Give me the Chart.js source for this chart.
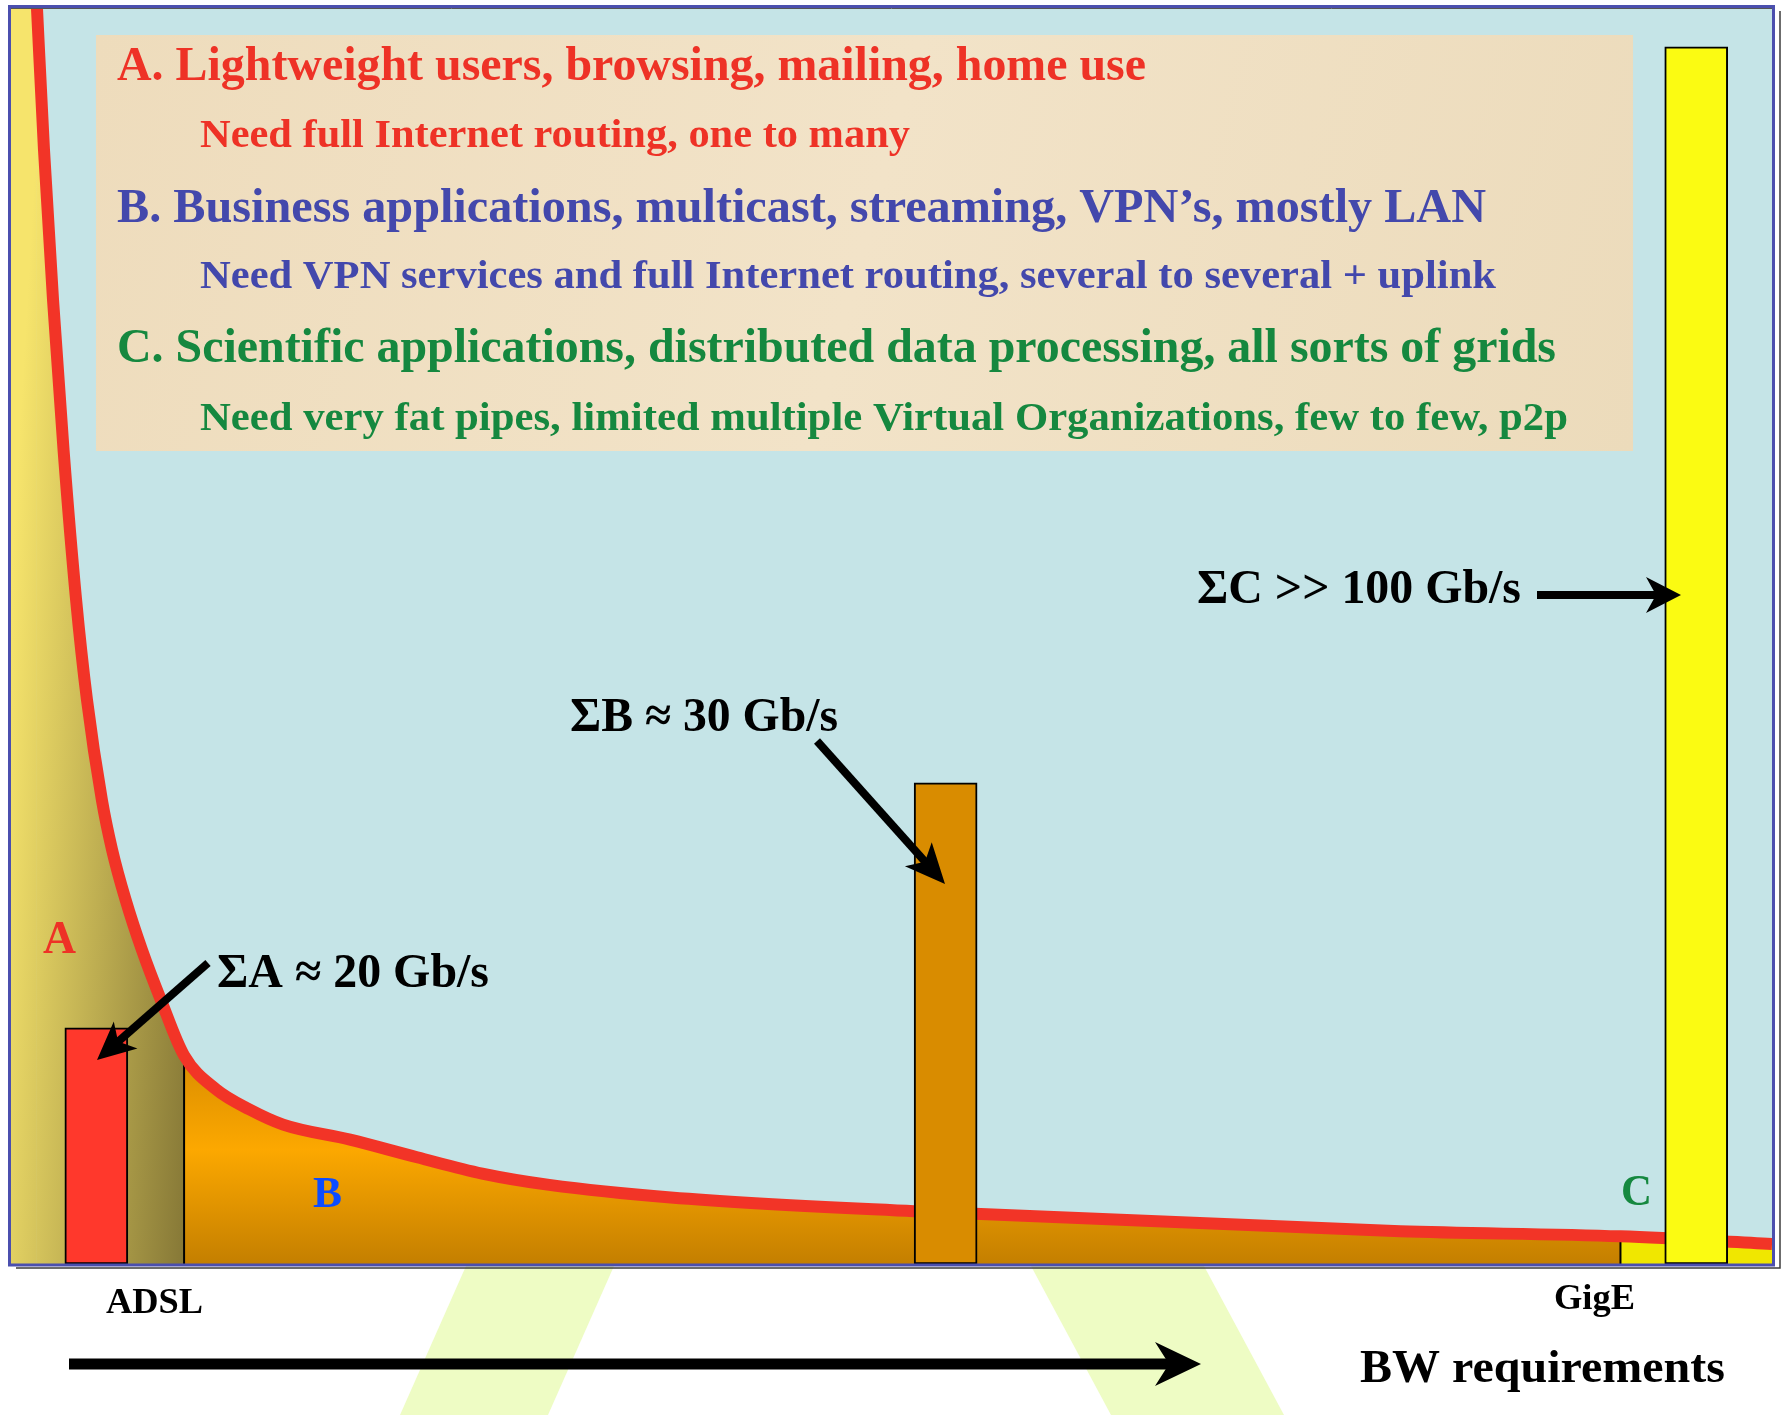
<!DOCTYPE html>
<html>
<head>
<meta charset="utf-8">
<title>BW requirements</title>
<script src="https://cdn.jsdelivr.net/npm/chart.js@4.4.1/dist/chart.umd.min.js"></script>
<style>
  html, body { margin: 0; padding: 0; background: #fff; }
  canvas { display: block; }
</style>
</head>
<body>
<canvas id="bwChart" width="1788" height="1415"></canvas>
<script>
// x = bandwidth requirement (0..100, ADSL on the left, GigE on the right)
// y = number of users (0..100)
var curveBW    = [1.53, 1.93, 2.44, 3.04, 3.75, 4.37, 5.22, 5.79, 6.56, 7.49, 8.57, 9.88, 11.7, 13.6, 15.5, 19.3, 23.1, 26.8, 30.6, 37.5, 51.3, 78.9, 91.4, 100];
var curveUsers = [100, 88.7, 76.8, 64.8, 52.9, 44.9, 36.9, 33.0, 29.0, 25.0, 21.0, 16.6, 13.9, 12.3, 11.1, 9.9, 8.5, 7.2, 6.3, 5.3, 4.2, 2.6, 2.2, 1.6];

// summed bandwidth per class: A (ADSL), B, C (GigE)
var barLabels = ['A', 'B', 'C'];
var barBW     = [4.9, 53.1, 95.7];
var barTotals = [18.8, 38.3, 96.9];
var barColors = ['#ff382c', '#d98c00', '#fbfb12'];

// where the classes split along the curve
var splitBW    = [0, 9.88, 91.4, 100];
var splitUsers = [100, 16.6, 2.2];

var curve = curveBW.map(function (x, i) { return { x: x, y: curveUsers[i] }; });
var bars = barBW.map(function (x, i) { return { x: x, y: barTotals[i] }; });

function regionOf(x) {
  return x < splitBW[1] ? 0 : (x < splitBW[2] ? 1 : 2);
}

var gradCache = {};

function gradA(context) {
  var chart = context.chart, a = chart.chartArea;
  if (!a) return '#e6d466';
  var key = 'A' + a.left + ',' + a.top + ',' + a.right + ',' + a.bottom;
  if (gradCache[key]) return gradCache[key];
  var xb = chart.scales.x.getPixelForValue(splitBW[1]);
  var w = xb - a.left, h = a.bottom - a.top;
  var g = chart.ctx.createLinearGradient(a.left, a.top + 0.47 * h, a.left + 1.25 * w, a.top + 0.48 * h);
  g.addColorStop(0, '#f6e46c');
  g.addColorStop(1, '#837535');
  gradCache[key] = g;
  return g;
}

function gradB(context) {
  var chart = context.chart, a = chart.chartArea;
  if (!a) return '#fca800';
  var key = 'B' + a.left + ',' + a.top + ',' + a.right + ',' + a.bottom;
  if (gradCache[key]) return gradCache[key];
  var g = chart.ctx.createLinearGradient(0, a.bottom - 224, 0, a.bottom);
  g.addColorStop(0, '#d48800');
  g.addColorStop(0.49, '#fca800');
  g.addColorStop(1, '#c47f00');
  gradCache[key] = g;
  return g;
}

var fitText = function (ctx, text, x, y, size, endX, color) {
  ctx.save();
  ctx.font = 'bold ' + size + 'px "Liberation Serif", "Times New Roman", serif';
  ctx.fillStyle = color;
  ctx.textAlign = 'left';
  ctx.textBaseline = 'alphabetic';
  var w = ctx.measureText(text).width;
  ctx.translate(x, y);
  ctx.scale((endX - x) / w, 1);
  ctx.fillText(text, 0, 0);
  ctx.restore();
};

var arrow = function (ctx, x1, y1, x2, y2, w, len, half, notch) {
  var ang = Math.atan2(y2 - y1, x2 - x1);
  var L = Math.hypot(x2 - x1, y2 - y1);
  ctx.save();
  ctx.translate(x1, y1);
  ctx.rotate(ang);
  ctx.fillStyle = '#000';
  ctx.fillRect(0, -w / 2, L - len + notch + 2, w);
  ctx.beginPath();
  ctx.moveTo(L, 0);
  ctx.lineTo(L - len, -half);
  ctx.lineTo(L - len + notch, 0);
  ctx.lineTo(L - len, half);
  ctx.closePath();
  ctx.fill();
  ctx.restore();
};

var slidePlugin = {
  id: 'slide',
  beforeDraw: function (chart) {
    var ctx = chart.ctx, a = chart.chartArea;
    ctx.save();
    ctx.fillStyle = '#ffffff';
    ctx.fillRect(0, 0, chart.width, chart.height);
    // pale legs of the background letter
    ctx.fillStyle = '#eefcc4';
    ctx.beginPath();
    ctx.moveTo(466, 1266); ctx.lineTo(614, 1266); ctx.lineTo(548, 1415); ctx.lineTo(400, 1415);
    ctx.closePath(); ctx.fill();
    ctx.beginPath();
    ctx.moveTo(1031, 1266); ctx.lineTo(1204, 1266); ctx.lineTo(1284, 1415); ctx.lineTo(1111, 1415);
    ctx.closePath(); ctx.fill();
    // shadow of the frame
    ctx.strokeStyle = '#3c3c3c';
    ctx.lineWidth = 1.5;
    ctx.beginPath();
    ctx.moveTo(a.right + 8, a.top + 3);
    ctx.lineTo(a.right + 8, a.bottom + 4);
    ctx.lineTo(a.left + 6, a.bottom + 4);
    ctx.stroke();
    ctx.fillStyle = '#c5e4e7';
    ctx.fillRect(a.left, a.top, a.right - a.left, a.bottom - a.top);
    ctx.restore();
  },
  afterDatasetsDraw: function (chart) {
    var ctx = chart.ctx, a = chart.chartArea;
    ctx.save();
    // frame
    ctx.strokeStyle = '#4b4fae';
    ctx.lineWidth = 3;
    ctx.strokeRect(a.left - 0.5, a.top - 1.5, a.right - a.left + 2, a.bottom - a.top + 2.5);
    ctx.strokeStyle = '#555';
    ctx.lineWidth = 1;
    ctx.beginPath();
    ctx.moveTo(a.left + 1, a.top + 0.5);
    ctx.lineTo(a.right, a.top + 0.5);
    ctx.stroke();

    // parchment text box
    var pg = ctx.createLinearGradient(96, 35, 1633, 451);
    pg.addColorStop(0, '#eedcbc');
    pg.addColorStop(0.5, '#f2e3c8');
    pg.addColorStop(1, '#ecdbbb');
    ctx.fillStyle = pg;
    ctx.fillRect(96, 35, 1537, 416);

    var red = '#ee3226', blue = '#4348ac', green = '#15883f';
    fitText(ctx, 'A. Lightweight users, browsing, mailing, home use', 117, 80, 48, 1146, red);
    fitText(ctx, 'Need full Internet routing, one to many', 200, 147, 41, 910, red);
    fitText(ctx, 'B. Business applications, multicast, streaming, VPN\u2019s, mostly LAN', 117, 222, 48, 1486, blue);
    fitText(ctx, 'Need VPN services and full Internet routing, several to several + uplink', 200, 288, 41, 1496, blue);
    fitText(ctx, 'C. Scientific applications, distributed data processing, all sorts of grids', 117, 362, 48, 1556, green);
    fitText(ctx, 'Need very fat pipes, limited multiple Virtual Organizations, few to few, p2p', 200, 430, 41, 1568, green);

    // class letters
    fitText(ctx, 'A', 43, 953, 46, 76, red);
    fitText(ctx, 'B', 313, 1207, 45, 342, '#0c4cff');
    fitText(ctx, 'C', 1621, 1205, 45, 1652, green);

    // sums with arrows
    fitText(ctx, '\u03A3A \u2248 20 Gb/s', 217, 987, 48, 489, '#000');
    arrow(ctx, 208, 963, 97, 1060, 8, 38, 18, 10);
    fitText(ctx, '\u03A3B \u2248 30 Gb/s', 570, 731, 48, 838, '#000');
    arrow(ctx, 817, 741, 945, 884, 8, 40, 18, 10);
    fitText(ctx, '\u03A3C >> 100 Gb/s', 1197, 603, 48, 1521, '#000');
    arrow(ctx, 1537, 595, 1681, 595, 8, 35, 18, 10);

    // axis notes
    fitText(ctx, 'ADSL', 106, 1313, 36, 203, '#000');
    fitText(ctx, 'GigE', 1554, 1309, 36, 1635, '#000');
    fitText(ctx, 'BW requirements', 1360, 1382, 46, 1725, '#000');
    arrow(ctx, 69, 1364, 1201, 1364, 11, 46, 22, 14);
    ctx.restore();
  }
};

var ctx = document.getElementById('bwChart').getContext('2d');
var bwChart = new Chart(ctx, {
  type: 'line',
  data: {
    datasets: [{
      type: 'bar',
      label: 'Sum per class',
      data: bars,
      backgroundColor: barColors,
      borderColor: '#000',
      borderWidth: 2,
      borderSkipped: false,
      barThickness: 63,
      order: 0
    }, {
      label: 'Users',
      data: curve,
      borderColor: '#f23427',
      borderWidth: 12,
      pointRadius: 0,
      cubicInterpolationMode: 'monotone',
      fill: false,
      clip: 0,
      order: 1
    }, {
      label: 'A|B split',
      data: [{ x: splitBW[1], y: 0 }, { x: splitBW[1], y: splitUsers[1] }],
      borderColor: '#000',
      borderWidth: 2,
      pointRadius: 0,
      fill: false,
      order: 2
    }, {
      label: 'B|C split',
      data: [{ x: splitBW[2], y: 0 }, { x: splitBW[2], y: splitUsers[2] }],
      borderColor: '#000',
      borderWidth: 2,
      pointRadius: 0,
      fill: false,
      order: 2
    }, {
      label: 'Class areas',
      data: curve,
      borderWidth: 0,
      pointRadius: 0,
      cubicInterpolationMode: 'monotone',
      fill: 'origin',
      backgroundColor: '#fca800',
      segment: {
        backgroundColor: function (c) {
          var r = regionOf(curveBW[c.p0DataIndex]);
          return r === 0 ? gradA(c) : (r === 1 ? gradB(c) : '#f0e700');
        },
        // forces a new fill segment at each class split
        borderDashOffset: function (c) { return regionOf(curveBW[c.p0DataIndex]); }
      },
      order: 3
    }, {
      label: 'A area (top)',
      data: [{ x: splitBW[0], y: splitUsers[0] }, { x: curveBW[0], y: curveUsers[0] }],
      borderWidth: 0,
      pointRadius: 0,
      fill: 'origin',
      backgroundColor: gradA,
      order: 3
    }]
  },
  options: {
    responsive: false,
    animation: false,
    devicePixelRatio: 1,
    layout: { padding: { left: 10, top: 8, right: 16, bottom: 151 } },
    plugins: {
      legend: { display: false },
      tooltip: { enabled: false }
    },
    scales: {
      x: { type: 'linear', min: 0, max: 100, offset: false, display: false },
      y: { type: 'linear', min: 0, max: 100, display: false }
    }
  },
  plugins: [slidePlugin]
});
</script>
</body>
</html>
